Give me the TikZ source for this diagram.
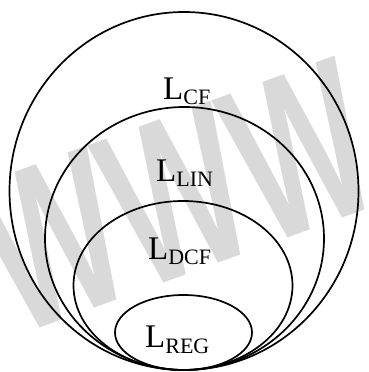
\documentclass[tikz,border=0pt]{standalone}
\usepackage{fontspec}
\setmainfont{Liberation Serif}
\newfontfamily\wmfont{Liberation Sans}
\definecolor{wmgray}{RGB}{217,217,217}
\begin{document}
\begin{tikzpicture}[x=1pt,y=1pt,
  set/.style={line width=1.7pt,black},
  lbl/.style={anchor=base west,inner sep=0pt,font=\fontsize{33}{33}\selectfont},
  wm/.style={text=wmgray,inner sep=0pt,font=\wmfont\bfseries\fontsize{225}{225}\selectfont,rotate=20,xscale=0.62}]
\useasboundingbox (0,0) rectangle (368,372);
\node[wm] (watermark) at (176,176) {WWW};
\draw[set] (184,181) ellipse [x radius=174.5, y radius=179];
\draw[set] (184.5,133.5) ellipse [x radius=139.5, y radius=131.5];
\draw[set] (183,86.5) ellipse [x radius=109.5, y radius=84.5];
\draw[set] (183.5,39.5) ellipse [x radius=68.5, y radius=37.5];
\newcommand{\sbs}[1]{\raisebox{-5pt}{\fontsize{22}{22}\selectfont #1}}
\node[lbl] (lcf) at (163,272) {L\sbs{CF}};
\node[lbl] (llin) at (156,190) {L\sbs{LIN}};
\node[lbl] (ldcf) at (148,112) {L\sbs{DCF}};
\node[lbl] (lreg) at (145,24) {L\sbs{REG}};
\end{tikzpicture}
\end{document}
